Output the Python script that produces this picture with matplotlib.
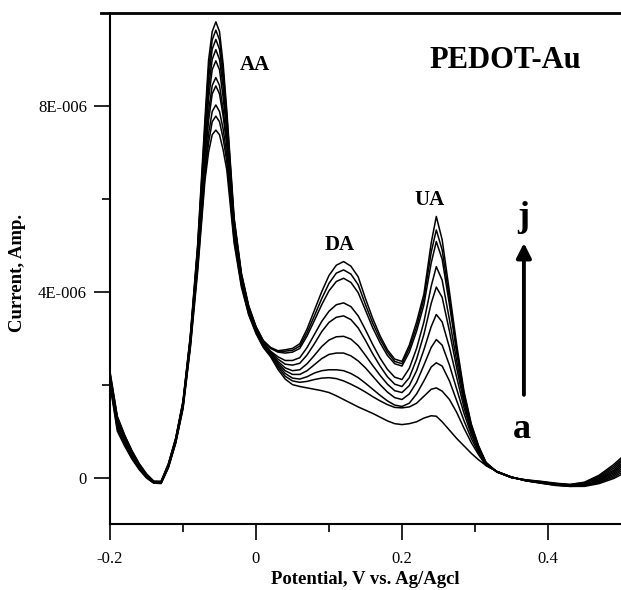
import matplotlib
matplotlib.use("Agg")
import matplotlib.pyplot as plt
from matplotlib.lines import Line2D

plt.rcParams['font.family'] = ['Liberation Serif', 'DejaVu Serif']

# potential (V vs Ag/AgCl)
pot = [-0.20, -0.19, -0.18, -0.17, -0.16, -0.15, -0.14, -0.13, -0.12, -0.11,
       -0.10, -0.09, -0.08, -0.07, -0.065, -0.06, -0.055, -0.05, -0.045, -0.04,
       -0.03, -0.02, -0.01, 0.00, 0.01, 0.02, 0.03, 0.04, 0.05, 0.06,
       0.07, 0.08, 0.09, 0.10, 0.11, 0.12, 0.13, 0.14, 0.15, 0.16,
       0.17, 0.18, 0.19, 0.20, 0.21, 0.22, 0.23, 0.24, 0.247, 0.255,
       0.265, 0.275, 0.285, 0.295, 0.305, 0.315, 0.33, 0.35, 0.37, 0.39,
       0.41, 0.43, 0.45, 0.47, 0.49, 0.50]

# current in units of 1E-006 A, curves a..j
cur_a = [2.00, 1.00, 0.68, 0.40, 0.17, -0.01, -0.12, -0.13, 0.21, 0.74,
         1.48, 2.78, 4.42, 6.38, 7.00, 7.38, 7.48, 7.38, 7.05, 6.62,
         5.05, 4.10, 3.50, 3.10, 2.80, 2.60, 2.33, 2.12, 2.00, 1.96,
         1.93, 1.90, 1.87, 1.83, 1.76, 1.68, 1.60, 1.52, 1.45, 1.38,
         1.30, 1.22, 1.16, 1.14, 1.16, 1.20, 1.28, 1.33, 1.32, 1.20,
         1.02, 0.84, 0.68, 0.52, 0.38, 0.26, 0.13, 0.01, -0.07, -0.12,
         -0.17, -0.19, -0.19, -0.13, -0.02, 0.06]
cur_b = [2.03, 1.05, 0.72, 0.42, 0.19, 0.00, -0.12, -0.12, 0.22, 0.75,
         1.50, 2.82, 4.50, 6.50, 7.20, 7.66, 7.78, 7.66, 7.30, 6.80,
         5.12, 4.15, 3.52, 3.12, 2.82, 2.62, 2.38, 2.18, 2.08, 2.05,
         2.07, 2.11, 2.14, 2.15, 2.13, 2.08, 2.01, 1.93, 1.84, 1.74,
         1.65, 1.57, 1.51, 1.50, 1.52, 1.60, 1.75, 1.90, 1.93, 1.86,
         1.68, 1.40, 1.06, 0.75, 0.49, 0.26, 0.13, 0.01, -0.07, -0.12,
         -0.16, -0.19, -0.18, -0.11, 0.01, 0.10]
cur_c = [2.06, 1.10, 0.76, 0.45, 0.21, 0.01, -0.11, -0.12, 0.23, 0.76,
         1.52, 2.85, 4.58, 6.62, 7.40, 7.88, 8.02, 7.88, 7.50, 6.95,
         5.20, 4.18, 3.55, 3.14, 2.84, 2.64, 2.42, 2.24, 2.14, 2.12,
         2.17, 2.25, 2.30, 2.32, 2.32, 2.30, 2.24, 2.15, 2.03, 1.90,
         1.77, 1.65, 1.56, 1.53, 1.60, 1.80, 2.08, 2.38, 2.47, 2.40,
         2.08, 1.65, 1.22, 0.84, 0.53, 0.27, 0.13, 0.01, -0.07, -0.11,
         -0.16, -0.18, -0.17, -0.09, 0.04, 0.14]
cur_d = [2.10, 1.15, 0.80, 0.48, 0.23, 0.02, -0.11, -0.11, 0.24, 0.78,
         1.54, 2.88, 4.65, 6.80, 7.68, 8.26, 8.43, 8.26, 7.78, 7.15,
         5.28, 4.22, 3.58, 3.16, 2.86, 2.66, 2.46, 2.30, 2.22, 2.22,
         2.30, 2.43, 2.56, 2.65, 2.68, 2.68, 2.62, 2.51, 2.36, 2.18,
         2.00, 1.84, 1.72, 1.68, 1.80, 2.05, 2.42, 2.80, 2.97, 2.85,
         2.42, 1.90, 1.38, 0.92, 0.57, 0.28, 0.13, 0.01, -0.07, -0.11,
         -0.15, -0.18, -0.16, -0.07, 0.07, 0.18]
cur_e = [2.12, 1.18, 0.82, 0.50, 0.24, 0.03, -0.10, -0.11, 0.25, 0.79,
         1.56, 2.92, 4.72, 6.95, 7.88, 8.44, 8.61, 8.44, 7.92, 7.25,
         5.32, 4.25, 3.60, 3.18, 2.88, 2.68, 2.50, 2.36, 2.30, 2.32,
         2.45, 2.63, 2.82, 2.96, 3.03, 3.04, 2.98, 2.84, 2.63, 2.41,
         2.20, 2.01, 1.87, 1.83, 1.98, 2.30, 2.75, 3.25, 3.51, 3.35,
         2.80, 2.15, 1.50, 0.98, 0.59, 0.29, 0.13, 0.01, -0.06, -0.10,
         -0.15, -0.17, -0.15, -0.05, 0.10, 0.22]
cur_f = [2.15, 1.22, 0.85, 0.52, 0.26, 0.04, -0.10, -0.10, 0.26, 0.80,
         1.58, 2.95, 4.80, 7.10, 8.15, 8.78, 8.97, 8.78, 8.18, 7.45,
         5.40, 4.30, 3.62, 3.20, 2.90, 2.70, 2.55, 2.44, 2.42, 2.46,
         2.64, 2.88, 3.14, 3.34, 3.45, 3.48, 3.40, 3.22, 2.95, 2.66,
         2.40, 2.17, 2.01, 1.96, 2.15, 2.55, 3.08, 3.75, 4.10, 3.88,
         3.15, 2.35, 1.60, 1.02, 0.61, 0.30, 0.12, 0.00, -0.06, -0.10,
         -0.14, -0.17, -0.14, -0.03, 0.13, 0.26]
cur_g = [2.18, 1.25, 0.87, 0.54, 0.27, 0.05, -0.09, -0.10, 0.27, 0.82,
         1.60, 2.98, 4.85, 7.25, 8.38, 9.00, 9.21, 9.00, 8.40, 7.58,
         5.45, 4.32, 3.64, 3.22, 2.92, 2.72, 2.60, 2.52, 2.52, 2.58,
         2.80, 3.08, 3.36, 3.58, 3.72, 3.76, 3.68, 3.48, 3.18, 2.86,
         2.57, 2.33, 2.16, 2.11, 2.35, 2.78, 3.35, 4.12, 4.54, 4.25,
         3.40, 2.50, 1.68, 1.06, 0.63, 0.31, 0.12, 0.00, -0.06, -0.10,
         -0.14, -0.16, -0.13, -0.01, 0.16, 0.30]
cur_h = [2.22, 1.28, 0.89, 0.56, 0.28, 0.06, -0.09, -0.09, 0.28, 0.83,
         1.62, 3.00, 4.90, 7.40, 8.58, 9.22, 9.43, 9.22, 8.58, 7.70,
         5.50, 4.35, 3.66, 3.23, 2.93, 2.78, 2.70, 2.68, 2.70, 2.78,
         3.05, 3.38, 3.72, 4.02, 4.22, 4.29, 4.20, 3.98, 3.60, 3.22,
         2.90, 2.63, 2.45, 2.40, 2.70, 3.15, 3.72, 4.62, 5.08, 4.70,
         3.72, 2.68, 1.76, 1.10, 0.65, 0.32, 0.12, 0.00, -0.06, -0.09,
         -0.13, -0.16, -0.12, 0.01, 0.20, 0.34]
cur_i = [2.25, 1.30, 0.90, 0.57, 0.29, 0.07, -0.08, -0.09, 0.29, 0.84,
         1.63, 3.02, 4.95, 7.55, 8.78, 9.42, 9.63, 9.42, 8.75, 7.80,
         5.55, 4.38, 3.68, 3.24, 2.94, 2.79, 2.72, 2.72, 2.74, 2.83,
         3.12, 3.48, 3.85, 4.18, 4.40, 4.47, 4.38, 4.15, 3.72, 3.32,
         2.98, 2.70, 2.50, 2.45, 2.78, 3.25, 3.85, 4.85, 5.33, 4.90,
         3.85, 2.75, 1.80, 1.12, 0.66, 0.32, 0.12, 0.00, -0.05, -0.09,
         -0.13, -0.15, -0.11, 0.03, 0.24, 0.38]
cur_j = [2.28, 1.32, 0.92, 0.58, 0.30, 0.08, -0.08, -0.08, 0.30, 0.85,
         1.65, 3.05, 5.00, 7.70, 8.98, 9.60, 9.81, 9.60, 8.90, 7.90,
         5.60, 4.40, 3.70, 3.25, 2.95, 2.80, 2.73, 2.75, 2.78, 2.88,
         3.20, 3.60, 4.00, 4.35, 4.57, 4.65, 4.55, 4.32, 3.85, 3.42,
         3.05, 2.75, 2.55, 2.50, 2.85, 3.35, 3.95, 5.05, 5.62, 5.12,
         4.00, 2.85, 1.85, 1.15, 0.68, 0.33, 0.12, 0.00, -0.05, -0.08,
         -0.12, -0.15, -0.10, 0.05, 0.28, 0.42]

curves = [cur_a, cur_b, cur_c, cur_d, cur_e, cur_f, cur_g, cur_h, cur_i, cur_j]

fig = plt.figure(figsize=(6.21, 5.90), dpi=100)
ax = fig.add_axes([110 / 621, 66 / 590, 511 / 621, 511 / 590])

for cur in curves:
    ax.plot(pot, cur, color='black', lw=1.1)

ax.set_xlim(-0.2, 0.5)
ax.set_ylim(-1, 10)

ax.set_xticks([-0.2, 0, 0.2, 0.4], labels=['-0.2', '0', '0.2', '0.4'])
ax.set_xticks([-0.1, 0.1, 0.3], minor=True)
ax.set_yticks([0, 4, 8], labels=['0', '4E-006', '8E-006'])
ax.set_yticks([2, 6], minor=True)

ax.tick_params(which='major', direction='out', length=11.5, width=1.2,
               labelsize=12, colors='black')
ax.tick_params(which='minor', direction='out', length=6, width=1.2)
ax.tick_params(axis='x', which='major', pad=8)
ax.tick_params(axis='y', which='major', pad=5)

ax.spines['right'].set_visible(False)
ax.spines['top'].set_visible(False)
ax.spines['left'].set_linewidth(1.5)
ax.spines['bottom'].set_linewidth(1.5)

# heavy rule along the top of the frame
fig.add_artist(Line2D([101 / 621, 1.0], [1 - 13 / 590, 1 - 13 / 590],
                      color='black', lw=2.0))

ax.set_xlabel('Potential, V vs. Ag/Agcl', fontsize=13.5, fontweight='bold',
              labelpad=3)
fig.text(18 / 621, 1 - 273 / 590, 'Current, Amp.', rotation=90,
         fontsize=13.5, fontweight='bold', ha='center', va='center')

ax.text(-0.022, 8.77, 'AA', fontsize=15, fontweight='bold', ha='left', va='baseline')
ax.text(0.341, 8.82, 'PEDOT-Au', fontsize=22, fontweight='bold', ha='center', va='baseline')
ax.text(0.115, 4.90, 'DA', fontsize=15, fontweight='bold', ha='center', va='baseline')
ax.text(0.238, 5.87, 'UA', fontsize=15, fontweight='bold', ha='center', va='baseline')
ax.text(0.366, 5.41, 'j', fontsize=26, fontweight='bold', ha='center', va='baseline')
ax.text(0.364, 0.85, 'a', fontsize=26, fontweight='bold', ha='center', va='baseline')

ax.annotate('', xy=(0.367, 5.05), xytext=(0.367, 1.78),
            arrowprops=dict(arrowstyle='-|>', lw=2.8, color='black',
                            mutation_scale=22, shrinkA=0, shrinkB=0))

fig.savefig('out.png', dpi=100)
